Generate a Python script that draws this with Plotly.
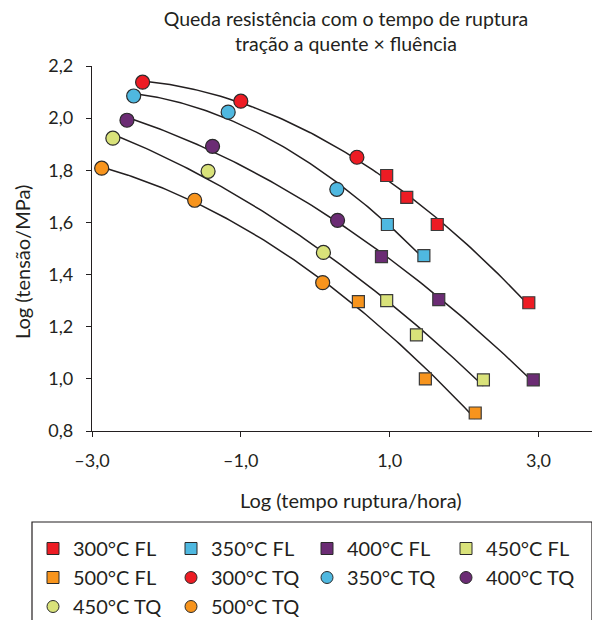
import numpy as np
import plotly.graph_objects as go

temps = ["300", "350", "400", "450", "500"]
colors = ["#ED1C24", "#4FB8E0", "#6B2C74", "#D9E27A", "#F7941D"]

# Hot tensile (TQ) data: log time, log stress
tq_x = {
    "300": [-2.32, -1.00, 0.56],
    "350": [-2.44, -1.17, 0.29],
    "400": [-2.53, -1.38, 0.30],
    "450": [-2.72, -1.44, 0.11],
    "500": [-2.87, -1.62, 0.10],
}
tq_y = {
    "300": [2.138, 2.065, 1.850],
    "350": [2.085, 2.023, 1.727],
    "400": [1.992, 1.892, 1.608],
    "450": [1.923, 1.796, 1.485],
    "500": [1.808, 1.685, 1.369],
}
# Creep (FL) data
fl_x = {
    "300": [0.96, 1.23, 1.64, 2.87],
    "350": [0.97, 1.46],
    "400": [0.89, 1.66, 2.93],
    "450": [0.96, 1.36, 2.26],
    "500": [0.58, 1.48, 2.15],
}
fl_y = {
    "300": [1.780, 1.696, 1.592, 1.292],
    "350": [1.592, 1.473],
    "400": [1.469, 1.304, 0.996],
    "450": [1.300, 1.169, 0.996],
    "500": [1.296, 1.000, 0.869],
}

y_ticks = [0.8, 1.0, 1.2, 1.4, 1.6, 1.8, 2.0, 2.2]
y_ticktext = ["0,8", "1,0", "1,2", "1,4", "1,6", "1,8", "2,0", "2,2"]
x_ticks = [-3, -1, 1, 3]
x_ticktext = ["–3,0", "–1,0", "1,0", "3,0"]

FONT = "Lato, 'Open Sans', sans-serif"
INK = "#231F20"
W, H = 592, 612  # page body has an 8px margin
fig = go.Figure()

# trend curves (quadratic fit through each temperature's data)
for t in temps:
    xs = np.array(tq_x[t] + fl_x[t])
    ys = np.array(tq_y[t] + fl_y[t])
    c = np.polyfit(xs, ys, 2)
    xx = np.linspace(xs.min(), xs.max(), 100)
    fig.add_trace(go.Scatter(x=xx, y=np.polyval(c, xx), mode="lines",
                             line=dict(color=INK, width=1.5),
                             showlegend=False, hoverinfo="skip"))

for t, col in zip(temps, colors):
    fig.add_trace(go.Scatter(x=fl_x[t], y=fl_y[t], mode="markers", showlegend=False,
                             marker=dict(symbol="square", size=12, color=col,
                                         line=dict(color="#3a3a3a", width=1.2))))
    fig.add_trace(go.Scatter(x=tq_x[t], y=tq_y[t], mode="markers", showlegend=False,
                             marker=dict(symbol="circle", size=14, color=col,
                                         line=dict(color="#2a2a2a", width=1.2))))

# legend entries, laid out row by row in four columns (one legend per column)
legend_ids = ["legend", "legend2", "legend3", "legend4"]
entries = [(t, c, "square", "FL") for t, c in zip(temps, colors)] + \
          [(t, c, "circle", "TQ") for t, c in zip(temps, colors)]
for i, (t, col, sym, kind) in enumerate(entries):
    fig.add_trace(go.Scatter(x=[None], y=[None], mode="markers", name=f"{t}°C {kind}",
                             legend=legend_ids[i % 4],
                             marker=dict(symbol=sym, size=12, color=col,
                                         line=dict(color="#2a2a2a", width=1))))

fig.add_shape(type="rect", xref="paper", yref="paper",
              x0=(32 - 92) / 506, x1=(592 - 92) / 506,
              y0=(431 - 640) / 365, y1=(431 - 522) / 365,
              line=dict(color=INK, width=1.2), fillcolor="rgba(0,0,0,0)")

# axis titles
fig.add_annotation(text="Log (tempo ruptura/hora)", xref="paper", yref="paper",
                   x=(351 - 92) / 506, y=(431 - 500) / 365, showarrow=False,
                   xanchor="center", yanchor="middle", font=dict(size=20, color=INK))
fig.add_annotation(text="Log (tensão/MPa)", xref="paper", yref="paper",
                   x=(22 - 92) / 506, y=(431 - 262) / 365, showarrow=False, textangle=-90,
                   xanchor="center", yanchor="middle", font=dict(size=20, color=INK))

legend_common = dict(orientation="v", xref="container", yref="container",
                     xanchor="left", yanchor="top", y=1 - 521 / H,
                     font=dict(family=FONT, size=20, color=INK), itemwidth=30,
                     tracegroupgap=0, bgcolor="rgba(0,0,0,0)")
col_x = [25, 163, 299, 438]

fig.update_layout(
    width=W, height=H,
    margin=dict(l=84, r=2, t=58, b=189, autoexpand=False),
    paper_bgcolor="white", plot_bgcolor="white",
    font=dict(family=FONT, size=20, color=INK),
    title=dict(text="Queda resistência com o tempo de ruptura<br>tração a quente × fluência",
               x=338 / W, xanchor="center", y=1 - 18 / H, yanchor="top",
               font=dict(family=FONT, size=19.5, color=INK)),
    xaxis=dict(range=[-3, 3.8], tickvals=x_ticks, ticktext=x_ticktext,
               showgrid=False, zeroline=False, showline=True, linecolor=INK,
               linewidth=1.2, ticks="outside", ticklen=5, tickcolor=INK,
               tickfont=dict(size=18), ticklabelstandoff=8, automargin=False),
    yaxis=dict(range=[0.8, 2.2], tickvals=y_ticks, ticktext=y_ticktext,
               showgrid=False, zeroline=False, showline=True, linecolor=INK,
               linewidth=1.2, ticks="outside", ticklen=5, tickcolor=INK,
               tickfont=dict(size=18), ticklabelstandoff=9, automargin=False),
    legend=dict(x=col_x[0] / W, **legend_common),
    legend2=dict(x=col_x[1] / W, **legend_common),
    legend3=dict(x=col_x[2] / W, **legend_common),
    legend4=dict(x=col_x[3] / W, **legend_common),
)

fig.write_html("out.html")
